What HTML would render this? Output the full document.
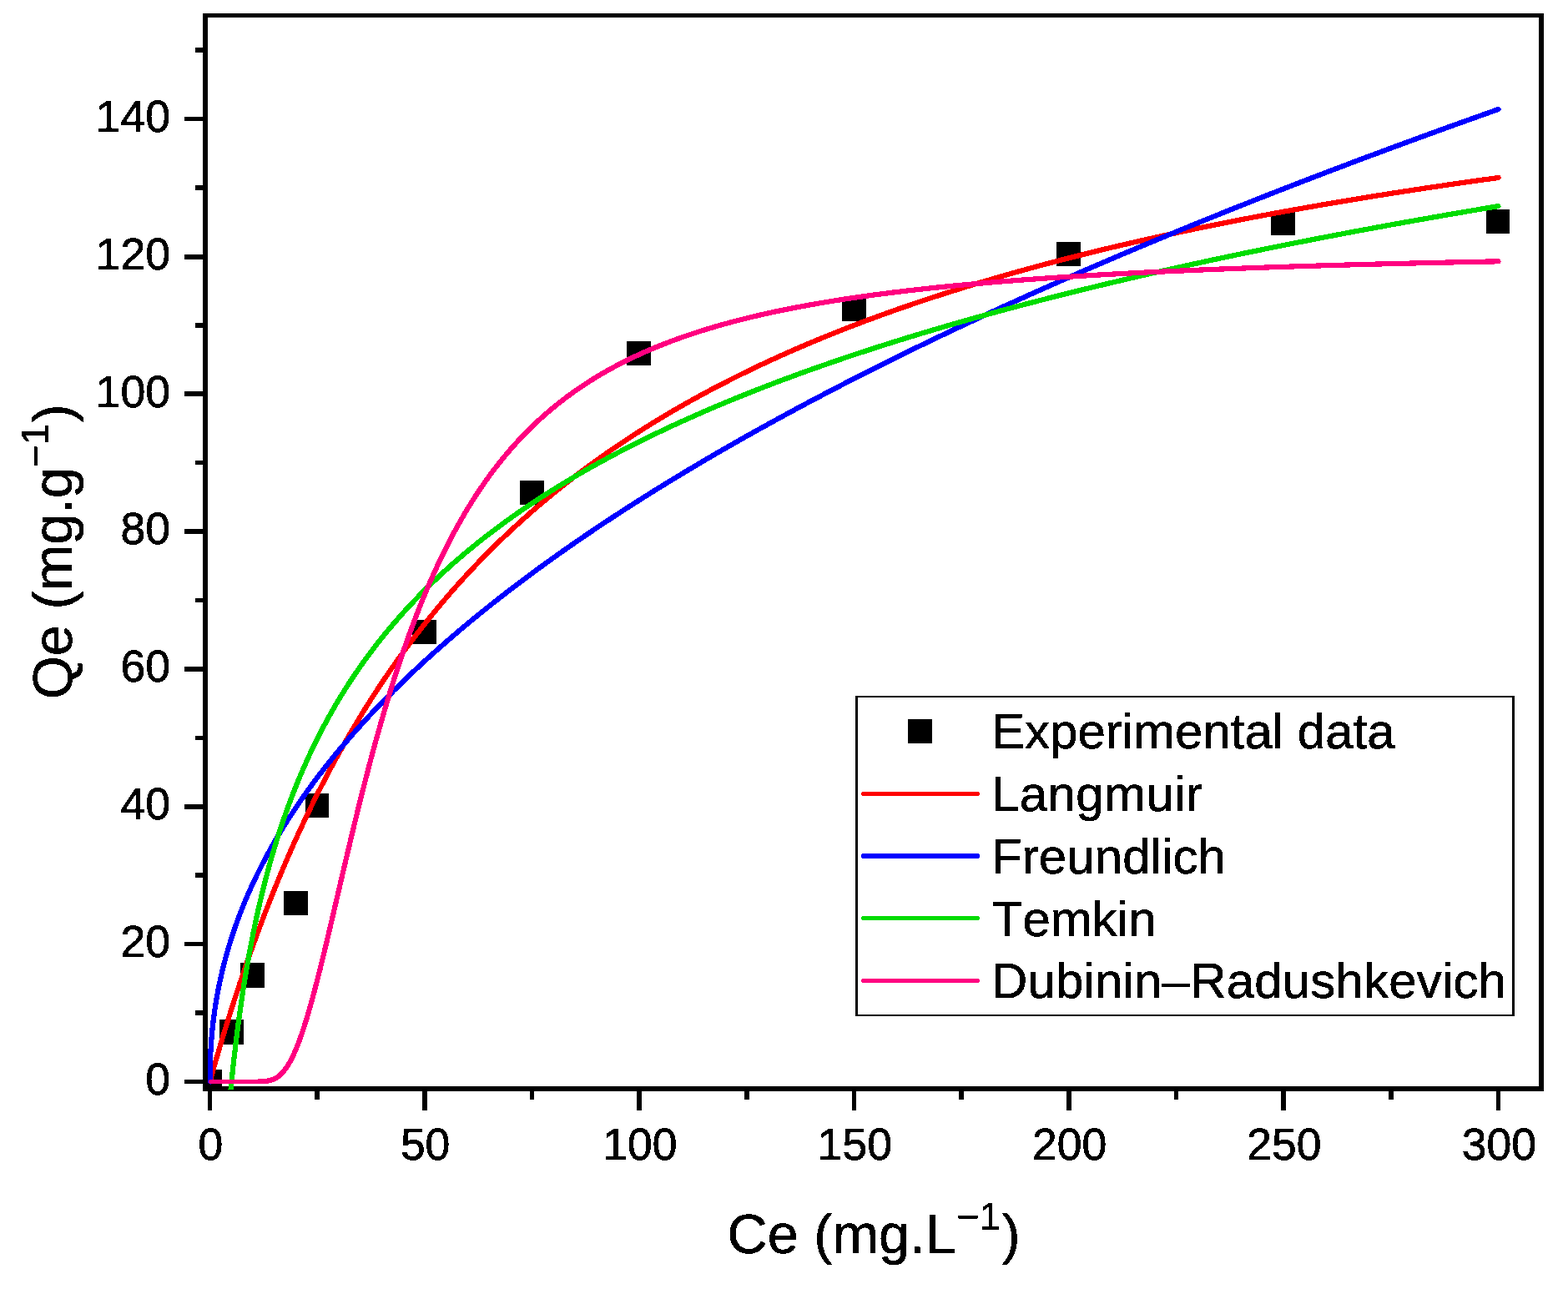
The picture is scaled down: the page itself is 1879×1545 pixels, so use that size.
<!DOCTYPE html>
<html lang="en"><head><meta charset="utf-8"><title>Adsorption isotherm models</title>
<style>html,body{margin:0;padding:0;background:#fff;}body{width:1879px;height:1545px;overflow:hidden;}svg{display:block;}text{font-family:"Liberation Sans",sans-serif;fill:#000;font-kerning:none;font-variant-ligatures:none;}</style>
</head><body>
<svg width="1879" height="1545" viewBox="0 0 1879 1545">
<rect x="0" y="0" width="1879" height="1545" fill="#fff"/>
<defs><filter id="bin" x="-10%" y="-30%" width="120%" height="160%" color-interpolation-filters="sRGB"><feComponentTransfer><feFuncA type="discrete" tableValues="0 1"/></feComponentTransfer></filter><clipPath id="plot"><rect x="246" y="18" width="1601" height="1288"/></clipPath></defs>
<g fill="#000" shape-rendering="crispEdges">
<rect x="243" y="16" width="1607" height="5"/>
<rect x="243" y="1302" width="1607" height="6"/>
<rect x="243" y="16" width="6" height="1292"/>
<rect x="1844" y="16" width="6" height="1292"/>
<rect x="221" y="1294" width="22" height="5"/>
<rect x="221" y="1129" width="22" height="5"/>
<rect x="221" y="964" width="22" height="6"/>
<rect x="221" y="799" width="22" height="6"/>
<rect x="221" y="634" width="22" height="6"/>
<rect x="221" y="469" width="22" height="6"/>
<rect x="221" y="305" width="22" height="6"/>
<rect x="221" y="140" width="22" height="5"/>
<rect x="234" y="1211" width="9" height="6"/>
<rect x="234" y="1046" width="9" height="6"/>
<rect x="234" y="882" width="9" height="5"/>
<rect x="234" y="717" width="9" height="5"/>
<rect x="234" y="552" width="9" height="5"/>
<rect x="234" y="387" width="9" height="6"/>
<rect x="234" y="222" width="9" height="6"/>
<rect x="234" y="57" width="9" height="6"/>
<rect x="249" y="1308" width="5" height="23"/>
<rect x="506" y="1308" width="6" height="23"/>
<rect x="763" y="1308" width="6" height="23"/>
<rect x="1021" y="1308" width="5" height="23"/>
<rect x="1278" y="1308" width="6" height="23"/>
<rect x="1535" y="1308" width="6" height="23"/>
<rect x="1793" y="1308" width="5" height="23"/>
<rect x="377" y="1308" width="6" height="10"/>
<rect x="635" y="1308" width="5" height="10"/>
<rect x="892" y="1308" width="6" height="10"/>
<rect x="1149" y="1308" width="6" height="10"/>
<rect x="1407" y="1308" width="5" height="10"/>
<rect x="1664" y="1308" width="6" height="10"/>
</g>
<g clip-path="url(#plot)" shape-rendering="crispEdges">
<rect x="237" y="1282" width="29" height="29" fill="#000"/>
<rect x="263" y="1222" width="29" height="30" fill="#000"/>
<rect x="288" y="1154" width="29" height="30" fill="#000"/>
<rect x="340" y="1068" width="29" height="29" fill="#000"/>
<rect x="366" y="951" width="28" height="29" fill="#000"/>
<rect x="494" y="743" width="29" height="29" fill="#000"/>
<rect x="623" y="576" width="29" height="29" fill="#000"/>
<rect x="751" y="409" width="29" height="29" fill="#000"/>
<rect x="1009" y="356" width="29" height="29" fill="#000"/>
<rect x="1266" y="290" width="29" height="29" fill="#000"/>
<rect x="1523" y="253" width="29" height="29" fill="#000"/>
<rect x="1781" y="251" width="28" height="29" fill="#000"/>
<path d="M252.15,1296.50 L252.15,1296.44 L252.15,1296.25 L252.15,1295.94 L252.15,1295.51 L252.15,1294.96 L252.15,1294.28 L252.34,1293.48 L252.60,1292.56 L252.89,1291.52 L253.22,1290.36 L253.58,1289.07 L253.97,1287.67 L254.40,1286.15 L254.86,1284.51 L255.36,1282.76 L255.89,1280.88 L256.46,1278.90 L257.06,1276.80 L257.69,1274.58 L258.36,1272.26 L259.07,1269.82 L259.80,1267.28 L260.58,1264.62 L261.38,1261.87 L262.22,1259.00 L263.10,1256.03 L264.01,1252.96 L264.95,1249.79 L265.93,1246.52 L266.94,1243.16 L267.99,1239.69 L269.07,1236.14 L270.18,1232.49 L271.33,1228.75 L272.52,1224.92 L273.73,1221.00 L274.99,1217.00 L276.27,1212.91 L277.59,1208.75 L278.95,1204.50 L280.34,1200.18 L281.76,1195.78 L283.22,1191.30 L284.71,1186.76 L286.24,1182.14 L287.80,1177.46 L289.40,1172.71 L291.03,1167.89 L292.69,1163.01 L294.39,1158.08 L296.12,1153.08 L297.89,1148.03 L299.69,1142.92 L301.53,1137.76 L303.40,1132.55 L305.30,1127.29 L307.24,1121.98 L309.21,1116.63 L311.22,1111.23 L313.26,1105.80 L315.34,1100.32 L317.45,1094.81 L319.59,1089.26 L321.77,1083.68 L323.98,1078.06 L326.23,1072.42 L328.51,1066.74 L330.83,1061.04 L333.18,1055.32 L335.56,1049.57 L337.98,1043.79 L340.43,1038.00 L342.92,1032.19 L345.44,1026.36 L348.00,1020.52 L350.59,1014.66 L353.22,1008.79 L355.87,1002.91 L358.57,997.02 L361.30,991.12 L364.06,985.22 L366.85,979.31 L369.68,973.39 L372.55,967.47 L375.45,961.55 L378.38,955.63 L381.35,949.71 L384.35,943.80 L387.39,937.88 L390.46,931.97 L393.57,926.07 L396.70,920.17 L399.88,914.28 L403.09,908.40 L406.33,902.53 L409.61,896.67 L412.92,890.82 L416.26,884.98 L419.64,879.16 L423.06,873.35 L426.50,867.55 L429.99,861.77 L433.50,856.01 L437.05,850.27 L440.64,844.54 L444.26,838.83 L447.91,833.14 L451.60,827.47 L455.33,821.82 L459.08,816.19 L462.87,810.59 L466.70,805.00 L470.56,799.44 L474.45,793.91 L478.38,788.39 L482.35,782.91 L486.34,777.44 L490.37,772.00 L494.44,766.59 L498.54,761.20 L502.67,755.84 L506.84,750.51 L511.05,745.20 L515.28,739.92 L519.56,734.67 L523.86,729.45 L528.20,724.25 L532.58,719.09 L536.99,713.95 L541.43,708.84 L545.91,703.76 L550.42,698.71 L554.96,693.69 L559.55,688.70 L564.16,683.74 L568.81,678.81 L573.49,673.91 L578.21,669.04 L582.96,664.20 L587.75,659.39 L592.57,654.61 L597.42,649.87 L602.31,645.15 L607.24,640.46 L612.20,635.81 L617.19,631.18 L622.21,626.59 L627.28,622.03 L632.37,617.50 L637.50,612.99 L642.66,608.52 L647.86,604.08 L653.09,599.68 L658.36,595.30 L663.66,590.95 L669.00,586.63 L674.37,582.35 L679.77,578.09 L685.21,573.87 L690.68,569.67 L696.19,565.51 L701.73,561.37 L707.31,557.27 L712.92,553.20 L718.56,549.15 L724.24,545.14 L729.95,541.15 L735.70,537.20 L741.48,533.27 L747.30,529.38 L753.15,525.51 L759.03,521.67 L764.95,517.86 L770.90,514.08 L776.89,510.33 L782.91,506.61 L788.97,502.91 L795.06,499.25 L801.18,495.61 L807.34,492.00 L813.53,488.41 L819.76,484.86 L826.02,481.33 L832.32,477.83 L838.65,474.36 L845.01,470.91 L851.41,467.49 L857.85,464.10 L864.31,460.74 L870.82,457.40 L877.35,454.08 L883.92,450.80 L890.53,447.53 L897.17,444.30 L903.84,441.09 L910.55,437.90 L917.29,434.74 L924.07,431.61 L930.88,428.50 L937.72,425.41 L944.60,422.35 L951.52,419.31 L958.46,416.30 L965.45,413.31 L972.46,410.34 L979.51,407.40 L986.60,404.48 L993.72,401.59 L1000.87,398.71 L1008.06,395.86 L1015.28,393.04 L1022.54,390.23 L1029.83,387.45 L1037.16,384.69 L1044.52,381.95 L1051.91,379.23 L1059.34,376.54 L1066.80,373.87 L1074.30,371.21 L1081.83,368.58 L1089.39,365.97 L1096.99,363.38 L1104.63,360.82 L1112.30,358.27 L1120.00,355.74 L1127.74,353.23 L1135.51,350.74 L1143.31,348.28 L1151.15,345.83 L1159.03,343.40 L1166.94,340.99 L1174.88,338.60 L1182.86,336.23 L1190.87,333.87 L1198.92,331.54 L1207.00,329.22 L1215.11,326.92 L1223.26,324.65 L1231.44,322.38 L1239.66,320.14 L1247.91,317.91 L1256.20,315.71 L1264.52,313.52 L1272.87,311.34 L1281.26,309.19 L1289.69,307.05 L1298.14,304.92 L1306.64,302.82 L1315.16,300.73 L1323.72,298.65 L1332.32,296.60 L1340.95,294.56 L1349.61,292.53 L1358.31,290.52 L1367.04,288.53 L1375.81,286.55 L1384.61,284.59 L1393.44,282.64 L1402.31,280.71 L1411.22,278.79 L1420.15,276.89 L1429.13,275.00 L1438.13,273.13 L1447.17,271.27 L1456.25,269.43 L1465.36,267.60 L1474.50,265.78 L1483.68,263.98 L1492.89,262.19 L1502.14,260.42 L1511.42,258.66 L1520.74,256.91 L1530.09,255.18 L1539.47,253.46 L1548.89,251.75 L1558.34,250.05 L1567.83,248.37 L1577.35,246.70 L1586.91,245.05 L1596.50,243.40 L1606.12,241.77 L1615.78,240.15 L1625.47,238.55 L1635.20,236.95 L1644.96,235.37 L1654.76,233.80 L1664.59,232.24 L1674.45,230.70 L1684.35,229.16 L1694.28,227.64 L1704.25,226.12 L1714.25,224.62 L1724.29,223.13 L1734.36,221.66 L1744.46,220.19 L1754.60,218.73 L1764.77,217.28 L1774.98,215.85 L1785.22,214.42 L1795.50,213.01" fill="none" stroke="#ff0000" stroke-width="6.2" stroke-linecap="round" stroke-linejoin="round"/>
<path d="M252.15,1296.50 L252.15,1289.72 L252.15,1283.54 L252.15,1276.60 L252.15,1268.98 L252.15,1268.55 L252.15,1267.32 L252.17,1265.38 L252.29,1262.89 L252.44,1259.95 L252.63,1256.70 L252.86,1253.21 L253.11,1249.54 L253.40,1245.74 L253.73,1241.85 L254.09,1237.88 L254.48,1233.86 L254.91,1229.80 L255.38,1225.71 L255.87,1221.60 L256.41,1217.47 L256.97,1213.33 L257.57,1209.18 L258.21,1205.02 L258.87,1200.86 L259.58,1196.70 L260.32,1192.53 L261.09,1188.37 L261.89,1184.21 L262.73,1180.05 L263.61,1175.89 L264.52,1171.73 L265.46,1167.58 L266.44,1163.43 L267.45,1159.29 L268.50,1155.15 L269.58,1151.02 L270.69,1146.89 L271.84,1142.76 L273.02,1138.64 L274.24,1134.52 L275.49,1130.41 L276.78,1126.30 L278.10,1122.20 L279.45,1118.10 L280.84,1114.00 L282.27,1109.91 L283.72,1105.83 L285.22,1101.75 L286.74,1097.67 L288.30,1093.60 L289.90,1089.53 L291.53,1085.47 L293.19,1081.41 L294.89,1077.36 L296.62,1073.31 L298.39,1069.26 L300.19,1065.22 L302.02,1061.18 L303.89,1057.15 L305.80,1053.12 L307.73,1049.09 L309.71,1045.07 L311.71,1041.05 L313.75,1037.03 L315.83,1033.02 L317.94,1029.01 L320.08,1025.01 L322.26,1021.01 L324.47,1017.01 L326.72,1013.02 L329.00,1009.03 L331.32,1005.04 L333.67,1001.06 L336.05,997.08 L338.47,993.10 L340.92,989.13 L343.41,985.16 L345.93,981.19 L348.48,977.23 L351.07,973.27 L353.70,969.31 L356.35,965.36 L359.05,961.41 L361.77,957.46 L364.53,953.51 L367.33,949.57 L370.16,945.63 L373.02,941.69 L375.92,937.76 L378.85,933.83 L381.82,929.90 L384.82,925.97 L387.86,922.05 L390.93,918.13 L394.03,914.21 L397.17,910.30 L400.34,906.38 L403.55,902.47 L406.79,898.56 L410.07,894.66 L413.38,890.76 L416.72,886.86 L420.10,882.96 L423.51,879.06 L426.96,875.17 L430.44,871.28 L433.96,867.39 L437.51,863.50 L441.09,859.62 L444.71,855.74 L448.36,851.86 L452.05,847.98 L455.77,844.11 L459.53,840.23 L463.32,836.36 L467.14,832.50 L471.00,828.63 L474.89,824.77 L478.82,820.90 L482.78,817.04 L486.78,813.19 L490.81,809.33 L494.87,805.48 L498.97,801.62 L503.11,797.77 L507.27,793.93 L511.47,790.08 L515.71,786.24 L519.98,782.39 L524.29,778.55 L528.62,774.72 L533.00,770.88 L537.41,767.05 L541.85,763.21 L546.32,759.38 L550.83,755.55 L555.38,751.73 L559.96,747.90 L564.57,744.08 L569.22,740.25 L573.90,736.43 L578.62,732.62 L583.37,728.80 L588.15,724.99 L592.97,721.17 L597.82,717.36 L602.71,713.55 L607.63,709.74 L612.59,705.94 L617.58,702.13 L622.61,698.33 L627.66,694.53 L632.76,690.73 L637.89,686.93 L643.05,683.13 L648.24,679.34 L653.48,675.54 L658.74,671.75 L664.04,667.96 L669.37,664.17 L674.74,660.38 L680.14,656.60 L685.58,652.81 L691.05,649.03 L696.56,645.25 L702.09,641.47 L707.67,637.69 L713.28,633.92 L718.92,630.14 L724.60,626.37 L730.31,622.59 L736.05,618.82 L741.83,615.05 L747.64,611.28 L753.49,607.52 L759.38,603.75 L765.29,599.99 L771.24,596.22 L777.23,592.46 L783.25,588.70 L789.30,584.94 L795.39,581.19 L801.51,577.43 L807.67,573.68 L813.86,569.92 L820.09,566.17 L826.35,562.42 L832.64,558.67 L838.97,554.92 L845.33,551.17 L851.73,547.43 L858.16,543.68 L864.62,539.94 L871.12,536.20 L877.66,532.46 L884.23,528.72 L890.83,524.98 L897.47,521.24 L904.14,517.51 L910.84,513.77 L917.58,510.04 L924.36,506.31 L931.17,502.58 L938.01,498.85 L944.89,495.12 L951.80,491.39 L958.74,487.67 L965.72,483.94 L972.74,480.22 L979.79,476.50 L986.87,472.77 L993.99,469.05 L1001.14,465.33 L1008.32,461.62 L1015.54,457.90 L1022.80,454.18 L1030.09,450.47 L1037.41,446.76 L1044.77,443.04 L1052.16,439.33 L1059.58,435.62 L1067.04,431.91 L1074.54,428.20 L1082.07,424.50 L1089.63,420.79 L1097.23,417.09 L1104.86,413.38 L1112.52,409.68 L1120.23,405.98 L1127.96,402.28 L1135.73,398.58 L1143.53,394.88 L1151.37,391.18 L1159.24,387.48 L1167.15,383.79 L1175.09,380.09 L1183.06,376.40 L1191.07,372.71 L1199.11,369.02 L1207.19,365.33 L1215.30,361.64 L1223.45,357.95 L1231.63,354.26 L1239.85,350.57 L1248.09,346.89 L1256.38,343.20 L1264.70,339.52 L1273.05,335.84 L1281.43,332.16 L1289.85,328.47 L1298.31,324.79 L1306.80,321.12 L1315.32,317.44 L1323.88,313.76 L1332.47,310.09 L1341.10,306.41 L1349.76,302.74 L1358.45,299.06 L1367.18,295.39 L1375.95,291.72 L1384.74,288.05 L1393.58,284.38 L1402.44,280.71 L1411.34,277.04 L1420.28,273.38 L1429.25,269.71 L1438.25,266.04 L1447.29,262.38 L1456.36,258.72 L1465.47,255.05 L1474.61,251.39 L1483.78,247.73 L1492.99,244.07 L1502.24,240.41 L1511.52,236.76 L1520.83,233.10 L1530.17,229.44 L1539.56,225.79 L1548.97,222.13 L1558.42,218.48 L1567.90,214.83 L1577.42,211.17 L1586.98,207.52 L1596.56,203.87 L1606.18,200.22 L1615.84,196.57 L1625.53,192.93 L1635.25,189.28 L1645.01,185.63 L1654.80,181.99 L1664.63,178.34 L1674.49,174.70 L1684.39,171.06 L1694.32,167.41 L1704.28,163.77 L1714.28,160.13 L1724.31,156.49 L1734.38,152.85 L1744.48,149.21 L1754.61,145.58 L1764.78,141.94 L1774.99,138.30 L1785.23,134.67 L1795.50,131.03" fill="none" stroke="#0000ff" stroke-width="6.2" stroke-linecap="round" stroke-linejoin="round"/>
<path d="M274.15,1331.93 L274.16,1331.73 L274.21,1331.16 L274.30,1330.21 L274.42,1328.88 L274.57,1327.18 L274.75,1325.11 L274.97,1322.70 L275.23,1319.94 L275.51,1316.84 L275.84,1313.43 L276.19,1309.71 L276.58,1305.69 L277.00,1301.40 L277.46,1296.84 L277.95,1292.04 L278.47,1287.00 L279.03,1281.74 L279.62,1276.27 L280.25,1270.62 L280.91,1264.80 L281.60,1258.81 L282.33,1252.68 L283.09,1246.42 L283.88,1240.04 L284.71,1233.55 L285.57,1226.96 L286.47,1220.29 L287.40,1213.55 L288.36,1206.75 L289.36,1199.89 L290.39,1192.98 L291.45,1186.04 L292.55,1179.07 L293.69,1172.08 L294.85,1165.07 L296.05,1158.06 L297.29,1151.04 L298.55,1144.02 L299.86,1137.01 L301.19,1130.01 L302.56,1123.03 L303.96,1116.06 L305.40,1109.12 L306.87,1102.20 L308.38,1095.32 L309.91,1088.46 L311.49,1081.64 L313.09,1074.85 L314.73,1068.10 L316.41,1061.39 L318.11,1054.72 L319.85,1048.09 L321.63,1041.50 L323.44,1034.96 L325.28,1028.46 L327.16,1022.01 L329.07,1015.60 L331.01,1009.24 L332.99,1002.93 L335.00,996.66 L337.04,990.44 L339.12,984.27 L341.24,978.15 L343.38,972.08 L345.56,966.05 L347.78,960.07 L350.03,954.14 L352.31,948.26 L354.62,942.42 L356.97,936.64 L359.36,930.89 L361.78,925.20 L364.23,919.55 L366.71,913.95 L369.23,908.39 L371.78,902.88 L374.37,897.42 L376.99,891.99 L379.64,886.62 L382.33,881.28 L385.05,875.99 L387.81,870.75 L390.60,865.54 L393.42,860.38 L396.28,855.26 L399.17,850.18 L402.09,845.14 L405.05,840.14 L408.04,835.19 L411.07,830.27 L414.13,825.39 L417.22,820.55 L420.35,815.74 L423.51,810.98 L426.70,806.25 L429.93,801.56 L433.19,796.90 L436.49,792.28 L439.82,787.70 L443.18,783.15 L446.58,778.64 L450.01,774.16 L453.48,769.71 L456.98,765.30 L460.51,760.92 L464.08,756.57 L467.68,752.25 L471.31,747.97 L474.98,743.72 L478.68,739.50 L482.42,735.31 L486.19,731.15 L489.99,727.02 L493.83,722.91 L497.70,718.84 L501.60,714.80 L505.54,710.79 L509.52,706.80 L513.52,702.84 L517.56,698.91 L521.64,695.00 L525.74,691.13 L529.89,687.28 L534.06,683.45 L538.27,679.65 L542.51,675.88 L546.79,672.13 L551.10,668.41 L555.44,664.71 L559.82,661.03 L564.23,657.38 L568.68,653.76 L573.16,650.15 L577.67,646.57 L582.22,643.02 L586.80,639.48 L591.42,635.97 L596.06,632.48 L600.75,629.01 L605.46,625.57 L610.21,622.14 L615.00,618.74 L619.81,615.35 L624.67,611.99 L629.55,608.65 L634.47,605.33 L639.42,602.03 L644.41,598.75 L649.43,595.48 L654.48,592.24 L659.57,589.02 L664.69,585.81 L669.85,582.63 L675.04,579.46 L680.26,576.31 L685.52,573.18 L690.81,570.06 L696.14,566.97 L701.49,563.89 L706.89,560.83 L712.31,557.79 L717.77,554.76 L723.27,551.75 L728.79,548.76 L734.36,545.78 L739.95,542.82 L745.58,539.88 L751.24,536.95 L756.94,534.04 L762.67,531.14 L768.43,528.26 L774.23,525.39 L780.06,522.54 L785.93,519.71 L791.83,516.89 L797.76,514.08 L803.73,511.29 L809.73,508.51 L815.76,505.75 L821.83,503.00 L827.94,500.27 L834.07,497.55 L840.24,494.84 L846.45,492.15 L852.68,489.47 L858.95,486.80 L865.26,484.15 L871.60,481.51 L877.97,478.88 L884.38,476.27 L890.82,473.67 L897.29,471.08 L903.80,468.50 L910.34,465.94 L916.92,463.39 L923.53,460.85 L930.17,458.32 L936.85,455.80 L943.56,453.30 L950.30,450.81 L957.08,448.33 L963.89,445.86 L970.74,443.40 L977.62,440.96 L984.53,438.52 L991.48,436.10 L998.46,433.68 L1005.48,431.28 L1012.53,428.89 L1019.61,426.51 L1026.73,424.14 L1033.88,421.78 L1041.06,419.43 L1048.28,417.10 L1055.53,414.77 L1062.82,412.45 L1070.13,410.14 L1077.49,407.85 L1084.88,405.56 L1092.30,403.28 L1099.75,401.01 L1107.24,398.75 L1114.76,396.51 L1122.32,394.27 L1129.91,392.04 L1137.53,389.82 L1145.19,387.61 L1152.88,385.40 L1160.60,383.21 L1168.36,381.03 L1176.16,378.85 L1183.98,376.69 L1191.84,374.53 L1199.74,372.38 L1207.67,370.24 L1215.63,368.11 L1223.62,365.99 L1231.65,363.88 L1239.72,361.77 L1247.81,359.68 L1255.94,357.59 L1264.11,355.51 L1272.31,353.44 L1280.54,351.37 L1288.80,349.32 L1297.10,347.27 L1305.44,345.23 L1313.81,343.20 L1322.21,341.17 L1330.64,339.16 L1339.11,337.15 L1347.61,335.15 L1356.15,333.16 L1364.72,331.17 L1373.32,329.19 L1381.96,327.22 L1390.63,325.26 L1399.34,323.30 L1408.08,321.35 L1416.85,319.41 L1425.66,317.48 L1434.50,315.55 L1443.37,313.63 L1452.28,311.72 L1461.22,309.81 L1470.20,307.91 L1479.21,306.02 L1488.25,304.13 L1497.33,302.25 L1506.44,300.38 L1515.59,298.52 L1524.77,296.66 L1533.98,294.80 L1543.23,292.96 L1552.51,291.12 L1561.82,289.29 L1571.17,287.46 L1580.55,285.64 L1589.96,283.83 L1599.41,282.02 L1608.90,280.22 L1618.41,278.42 L1627.97,276.63 L1637.55,274.85 L1647.17,273.07 L1656.82,271.30 L1666.51,269.54 L1676.23,267.78 L1685.98,266.03 L1695.77,264.28 L1705.59,262.54 L1715.44,260.80 L1725.33,259.07 L1735.25,257.35 L1745.21,255.63 L1755.20,253.92 L1765.23,252.21 L1775.28,250.51 L1785.37,248.81 L1795.50,247.12" fill="none" stroke="#00dc00" stroke-width="6.2" stroke-linecap="round" stroke-linejoin="round"/>
<path d="M253.04,1296.50 L256.65,1296.50 L256.66,1296.50 L256.72,1296.50 L256.80,1296.50 L256.92,1296.50 L257.07,1296.50 L257.26,1296.50 L257.48,1296.50 L257.74,1296.50 L258.03,1296.50 L258.36,1296.50 L258.72,1296.50 L259.11,1296.50 L259.54,1296.50 L260.00,1296.50 L260.49,1296.50 L261.02,1296.50 L261.59,1296.50 L262.19,1296.50 L262.82,1296.50 L263.49,1296.50 L264.19,1296.50 L264.92,1296.50 L265.69,1296.50 L266.50,1296.50 L267.33,1296.50 L268.21,1296.50 L269.11,1296.50 L270.05,1296.50 L271.03,1296.50 L272.04,1296.50 L273.08,1296.50 L274.16,1296.50 L275.27,1296.50 L276.41,1296.50 L277.59,1296.50 L278.81,1296.50 L280.05,1296.50 L281.34,1296.50 L282.65,1296.50 L284.00,1296.50 L285.39,1296.50 L286.81,1296.50 L288.26,1296.50 L289.75,1296.50 L291.27,1296.50 L292.83,1296.50 L294.42,1296.50 L296.04,1296.50 L297.70,1296.50 L299.39,1296.50 L301.12,1296.50 L302.88,1296.50 L304.68,1296.49 L306.51,1296.48 L308.37,1296.47 L310.27,1296.44 L312.20,1296.38 L314.17,1296.30 L315.83,1296.20" fill="none" stroke="#ff0080" stroke-width="5.9" stroke-linecap="round" stroke-linejoin="round"/>
<path d="M315.83,1296.20 L316.17,1296.17 L318.20,1295.98 L320.27,1295.70 L322.37,1295.30 L324.51,1294.76 L326.68,1294.03 L328.89,1293.08 L331.13,1291.86 L333.40,1290.32 L335.71,1288.43 L338.05,1286.14 L340.43,1283.40 L342.84,1280.18 L345.28,1276.44 L347.76,1272.16 L350.28,1267.30 L352.82,1261.85 L355.41,1255.79 L358.02,1249.13 L360.67,1241.85 L363.36,1233.96 L366.08,1225.49 L368.83,1216.43 L371.62,1206.82 L374.44,1196.68 L377.29,1186.03 L380.18,1174.92 L383.11,1163.37 L386.06,1151.41 L389.06,1139.09 L392.08,1126.44 L395.14,1113.50 L398.24,1100.31 L401.37,1086.90 L404.53,1073.31 L407.73,1059.57 L410.96,1045.73 L414.23,1031.80 L417.53,1017.82 L420.86,1003.82 L424.23,989.83 L427.63,975.87 L431.07,961.96 L434.54,948.13 L438.04,934.39 L441.58,920.78 L445.16,907.29 L448.76,893.95 L452.41,880.76 L456.08,867.75 L459.79,854.93 L463.54,842.29 L467.32,829.85 L471.13,817.62 L474.98,805.60 L478.86,793.80 L482.77,782.21 L486.72,770.85 L490.71,759.72 L494.72,748.81 L498.78,738.13 L502.86,727.67 L506.98,717.45 L511.14,707.45 L515.33,697.67 L519.55,688.12 L523.81,678.79 L528.10,669.68 L532.43,660.78 L536.79,652.10 L541.18,643.62 L545.61,635.36 L550.07,627.30 L554.57,619.43 L559.10,611.77 L563.67,604.29 L568.26,597.01 L572.90,589.91 L577.57,582.99 L582.27,576.24 L587.00,569.67 L591.77,563.27 L596.58,557.04 L601.42,550.96 L606.29,545.05 L611.20,539.28 L616.14,533.67 L621.12,528.20 L626.13,522.87 L631.17,517.69 L636.25,512.64 L641.36,507.72 L646.51,502.92 L651.69,498.26 L656.90,493.71 L662.15,489.28 L667.44,484.97 L672.75,480.77 L678.10,476.68 L683.49,472.69 L688.91,468.81 L694.36,465.03 L699.85,461.34 L705.38,457.75 L710.93,454.25 L716.52,450.84 L722.15,447.52 L727.81,444.29 L733.50,441.13 L739.23,438.06 L744.99,435.06 L750.79,432.14 L756.62,429.30 L762.48,426.52 L768.38,423.81 L774.32,421.18 L780.28,418.60 L786.29,416.10 L792.32,413.65 L798.39,411.27 L804.50,408.94 L810.63,406.67 L816.81,404.46 L823.01,402.30 L829.25,400.19 L835.53,398.13 L841.84,396.13 L848.18,394.17 L854.56,392.26 L860.97,390.39 L867.42,388.57 L873.90,386.79 L880.41,385.06 L886.96,383.36 L893.54,381.71 L900.16,380.09 L906.81,378.52 L913.50,376.97 L920.22,375.47 L926.97,374.00 L933.76,372.56 L940.58,371.16 L947.44,369.79 L954.33,368.45 L961.25,367.14 L968.21,365.86 L975.21,364.61 L982.23,363.39 L989.29,362.19 L996.39,361.02 L1003.52,359.88 L1010.68,358.76 L1017.88,357.67 L1025.12,356.60 L1032.38,355.55 L1039.68,354.53 L1047.02,353.53 L1054.39,352.55 L1061.79,351.60 L1069.23,350.66 L1076.70,349.74 L1084.21,348.85 L1091.75,347.97 L1099.32,347.11 L1106.93,346.27 L1114.57,345.45 L1122.25,344.64 L1129.96,343.85 L1137.71,343.08 L1145.49,342.32 L1153.30,341.58 L1161.15,340.85 L1169.03,340.14 L1176.95,339.45 L1184.90,338.77 L1192.89,338.10 L1200.90,337.44 L1208.96,336.80 L1217.05,336.17 L1225.17,335.56 L1233.32,334.95 L1241.51,334.36 L1249.74,333.78 L1258.00,333.21 L1266.29,332.66 L1274.62,332.11 L1282.98,331.58 L1291.37,331.05 L1299.80,330.54 L1308.26,330.03 L1316.76,329.54 L1325.29,329.05 L1333.86,328.57 L1342.46,328.11 L1351.10,327.65 L1359.77,327.20 L1368.47,326.76 L1377.21,326.32 L1385.98,325.90 L1394.78,325.48 L1403.62,325.07 L1412.50,324.67 L1421.40,324.28 L1430.35,323.89 L1439.32,323.51 L1448.33,323.14 L1457.38,322.77 L1466.46,322.41 L1475.57,322.06 L1484.72,321.71 L1493.90,321.37 L1503.12,321.04 L1512.37,320.71 L1521.65,320.39 L1530.97,320.07 L1540.32,319.76 L1549.71,319.46 L1559.13,319.16 L1568.59,318.86 L1578.08,318.57 L1587.60,318.29 L1597.16,318.01 L1606.75,317.73 L1616.38,317.46 L1626.04,317.20 L1635.73,316.93 L1645.46,316.68 L1655.22,316.43 L1665.02,316.18 L1674.85,315.93 L1684.72,315.70 L1694.62,315.46 L1704.55,315.23 L1714.52,315.00 L1724.52,314.78 L1734.56,314.56 L1744.63,314.34 L1754.74,314.13 L1764.88,313.92 L1775.05,313.71 L1785.26,313.51 L1795.50,313.31" fill="none" stroke="#ff0080" stroke-width="6.2" stroke-linecap="round" stroke-linejoin="round"/>
</g>
<g font-size="53.33" stroke="#000" stroke-width="0.75" stroke-linejoin="round" filter="url(#bin)">
<text transform="translate(204.00,1311.90) scale(1.003,1.022)" text-anchor="end">0</text>
<text transform="translate(204.00,1147.04) scale(1.003,1.022)" text-anchor="end">20</text>
<text transform="translate(204.00,982.19) scale(1.003,1.022)" text-anchor="end">40</text>
<text transform="translate(204.00,817.33) scale(1.003,1.022)" text-anchor="end">60</text>
<text transform="translate(204.00,652.47) scale(1.003,1.022)" text-anchor="end">80</text>
<text transform="translate(204.00,487.61) scale(1.003,1.022)" text-anchor="end">100</text>
<text transform="translate(204.00,322.76) scale(1.003,1.022)" text-anchor="end">120</text>
<text transform="translate(204.00,157.90) scale(1.003,1.022)" text-anchor="end">140</text>
<text transform="translate(252.30,1389.60) scale(1.003,1.022)" text-anchor="middle">0</text>
<text transform="translate(509.63,1389.60) scale(1.003,1.022)" text-anchor="middle">50</text>
<text transform="translate(766.97,1389.60) scale(1.003,1.022)" text-anchor="middle">100</text>
<text transform="translate(1024.30,1389.60) scale(1.003,1.022)" text-anchor="middle">150</text>
<text transform="translate(1281.63,1389.60) scale(1.003,1.022)" text-anchor="middle">200</text>
<text transform="translate(1538.97,1389.60) scale(1.003,1.022)" text-anchor="middle">250</text>
<text transform="translate(1796.30,1389.60) scale(1.003,1.022)" text-anchor="middle">300</text>
</g>
<text filter="url(#bin)" transform="translate(871.5,1502)" stroke="#000" stroke-width="0.5" font-size="66.67"><tspan x="0" y="0">Ce (mg.L</tspan><tspan x="275.2" y="-28" font-size="46">−1</tspan><tspan x="329" y="0">)</tspan></text>
<text filter="url(#bin)" transform="translate(86,838) rotate(-90)" stroke="#000" stroke-width="0.5" font-size="66.67"><tspan x="0" y="0">Qe (mg.g</tspan><tspan x="277.9" y="-28" font-size="46">−1</tspan><tspan x="331.5" y="0">)</tspan></text>
<g shape-rendering="crispEdges">
<rect x="1025" y="834" width="790" height="384" fill="#000"/>
<rect x="1028" y="836" width="784" height="380" fill="#fff"/>
<rect x="1088" y="862" width="29" height="29" fill="#000"/>
<line x1="1035" x2="1171" y1="951.5" y2="951.5" stroke="#ff0000" stroke-width="5.9" stroke-linecap="round"/>
<line x1="1035" x2="1171" y1="1026.0" y2="1026.0" stroke="#0000ff" stroke-width="5.9" stroke-linecap="round"/>
<line x1="1035" x2="1171" y1="1100.5" y2="1100.5" stroke="#00dc00" stroke-width="5.9" stroke-linecap="round"/>
<line x1="1035" x2="1171" y1="1175.5" y2="1175.5" stroke="#ff0080" stroke-width="5.9" stroke-linecap="round"/>
</g>
<text filter="url(#bin)" x="1188" y="897" font-size="60" letter-spacing="0" stroke="#000" stroke-width="0.6">Experimental data</text>
<text filter="url(#bin)" x="1188" y="972" font-size="60" letter-spacing="0.39" stroke="#000" stroke-width="0.6">Langmuir</text>
<text filter="url(#bin)" x="1188" y="1046.8" font-size="60" letter-spacing="0.08" stroke="#000" stroke-width="0.6">Freundlich</text>
<text filter="url(#bin)" x="1188.8" y="1121.8" font-size="60" letter-spacing="0" stroke="#000" stroke-width="0.6">Temkin</text>
<text filter="url(#bin)" x="1188" y="1196.4" font-size="60" letter-spacing="0.17" stroke="#000" stroke-width="0.6">Dubinin–Radushkevich</text>
</svg></body></html>
